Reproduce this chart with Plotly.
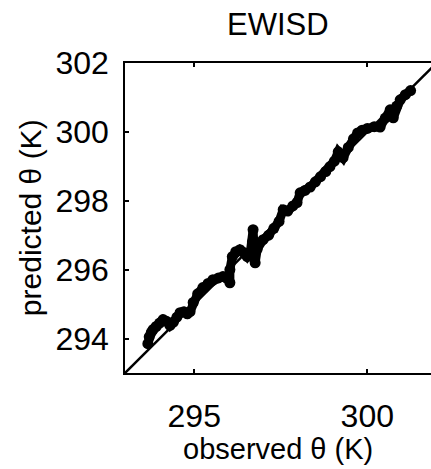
import plotly.graph_objects as go

# observed vs predicted potential temperature (K)
observed = [293.66, 293.70, 293.76, 293.81, 293.90, 294.00, 294.10, 294.20, 294.30, 294.40,
            294.50, 294.59, 294.70, 294.80, 294.88, 294.97, 295.10, 295.25, 295.40, 295.54,
            295.70, 295.83, 295.95, 296.03, 296.03, 296.10, 296.20, 296.32, 296.43, 296.53,
            296.62, 296.68, 296.70, 296.73, 296.76, 296.82, 296.99, 297.15, 297.30, 297.45,
            297.57, 297.70, 297.85, 297.97, 298.06, 298.20, 298.35, 298.50, 298.65, 298.80,
            298.92, 299.05, 299.16, 299.30, 299.45, 299.60, 299.72, 299.85, 300.00, 300.20,
            300.37, 300.52, 300.66, 300.75, 300.85, 300.95, 301.10, 301.25]
predicted = [293.85, 294.05, 294.18, 294.26, 294.35, 294.45, 294.55, 294.50, 294.38, 294.48,
             294.62, 294.75, 294.78, 294.72, 294.78, 295.05, 295.30, 295.48, 295.60, 295.71,
             295.76, 295.80, 295.75, 295.62, 296.00, 296.38, 296.52, 296.58, 296.50, 296.38,
             296.50, 296.80, 297.16, 296.60, 296.20, 296.60, 296.87, 297.00, 297.20, 297.40,
             297.74, 297.70, 297.85, 297.95, 298.23, 298.30, 298.40, 298.55, 298.70, 298.85,
             298.99, 299.15, 299.42, 299.25, 299.55, 299.80, 299.97, 300.05, 300.10, 300.15,
             300.14, 300.40, 300.64, 300.41, 300.75, 300.93, 301.08, 301.20]
one_to_one = [293, 302]
x_ticks = [295, 300]
y_ticks = [294, 296, 298, 300, 302]

FONT = "Liberation Sans, Arial, sans-serif"

fig = go.Figure()
fig.add_trace(go.Scatter(x=observed, y=predicted, mode="lines+markers",
                         line=dict(color="black", width=9),
                         marker=dict(color="black", size=11),
                         showlegend=False, hoverinfo="skip"))
fig.add_trace(go.Scatter(x=one_to_one, y=one_to_one, mode="lines",
                         line=dict(color="black", width=2.5),
                         showlegend=False, hoverinfo="skip"))

fig.update_layout(
    width=431, height=469,
    margin=dict(l=125, r=0, t=63, b=96),
    paper_bgcolor="white", plot_bgcolor="white",
    font=dict(family=FONT, color="black"),
    showlegend=False,
    xaxis=dict(range=[293, 301.84], tickvals=x_ticks, ticks="inside", ticklen=4,
               tickwidth=1.5, tickcolor="black", showline=True, linecolor="black",
               linewidth=1.5, mirror="ticks", showgrid=False, zeroline=False,
               tickfont=dict(size=32, family=FONT), ticklabelstandoff=14),
    yaxis=dict(range=[293, 302], tickvals=y_ticks, ticks="inside", ticklen=4,
               tickwidth=1.5, tickcolor="black", showline=True, linecolor="black",
               linewidth=1.5, mirror=False, showgrid=False, zeroline=False,
               tickfont=dict(size=32, family=FONT), ticklabelstandoff=8),
    annotations=[
        dict(text="EWISD", x=0.5, xref="paper", y=1.125, yref="paper",
             xanchor="center", yanchor="middle", showarrow=False,
             font=dict(size=31, family=FONT)),
        dict(text="observed θ (K)", x=0.5, xref="paper", y=-0.245, yref="paper",
             xanchor="center", yanchor="middle", showarrow=False,
             font=dict(size=29, family=FONT)),
        dict(text="predicted θ (K)", x=-0.31, xref="paper", y=0.5, yref="paper",
             xanchor="center", yanchor="middle", showarrow=False, textangle=-90,
             font=dict(size=30, family=FONT)),
    ],
)

fig.write_html("out.html")
